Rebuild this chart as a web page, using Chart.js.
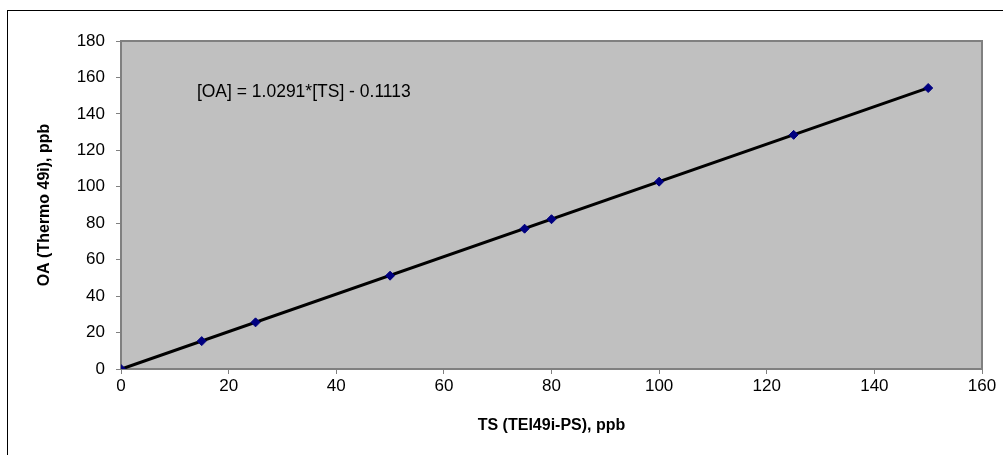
<!DOCTYPE html>
<html>
<head>
<meta charset="utf-8">
<script src="https://cdn.jsdelivr.net/npm/chart.js@4"></script>
<style>
  html, body { margin: 0; padding: 0; background: #fff; }
  #wrap { width: 1003px; height: 455px; position: relative; }
</style>
</head>
<body>
<div id="wrap"><canvas id="calChart"></canvas></div>
<script>
  const tsValues = [0, 15, 25, 50, 75, 80, 100, 125, 150];
  const oaValues = [0, 15.3, 25.6, 51.2, 77.0, 82.2, 102.8, 128.5, 154.2];
  // trendline end points
  const trendX = [0, 150];
  const trendY = [-0.11, 154.25];
  const xTicks = [0, 20, 40, 60, 80, 100, 120, 140, 160];
  const yTicks = [0, 20, 40, 60, 80, 100, 120, 140, 160, 180];
  const equationText = '[OA] = 1.0291*[TS] - 0.1113';

  const FONT = '"Liberation Sans", Arial, sans-serif';

  // gray plot area + outer frame + equation label
  const excelLook = {
    id: 'excelLook',
    beforeDraw(chart) {
      const { ctx, chartArea: a } = chart;
      ctx.save();
      ctx.strokeStyle = '#000';
      ctx.lineWidth = 1;
      ctx.strokeRect(7.5, 10.5, 1100, 600);
      ctx.fillStyle = '#c0c0c0';
      ctx.fillRect(a.left, a.top, a.right - a.left, a.bottom - a.top);
      ctx.strokeStyle = '#808080';
      ctx.lineWidth = 2;
      ctx.strokeRect(a.left, a.top, a.right - a.left, a.bottom - a.top);
      ctx.restore();
    },
    afterDatasetsDraw(chart) {
      const { ctx, scales } = chart;
      ctx.save();
      ctx.font = '17.5px ' + FONT;
      ctx.fillStyle = '#000';
      ctx.textBaseline = 'middle';
      ctx.fillText(equationText, scales.x.getPixelForValue(14.1), scales.y.getPixelForValue(152));
      ctx.restore();
    }
  };

  const ctx = document.getElementById('calChart').getContext('2d');
  new Chart(ctx, {
    type: 'scatter',
    data: {
      datasets: [{
        label: 'OA vs TS',
        data: tsValues.map((x, i) => ({ x: x, y: oaValues[i] })),
        pointStyle: 'rectRot',
        pointRadius: 4.5,
        backgroundColor: '#000080',
        borderColor: '#000080',
        borderWidth: 1,
        order: 1
      }, {
        type: 'line',
        label: 'Trend',
        data: trendX.map((x, i) => ({ x: x, y: trendY[i] })),
        borderColor: '#000',
        borderWidth: 3,
        pointRadius: 0,
        fill: false,
        order: 2
      }]
    },
    options: {
      responsive: true,
      maintainAspectRatio: false,
      animation: false,
      layout: { padding: { top: 41, right: 21, left: 0, bottom: 0 } },
      plugins: {
        legend: { display: false },
        tooltip: { enabled: false }
      },
      scales: {
        x: {
          type: 'linear',
          min: 0,
          max: 160,
          afterBuildTicks: (s) => { s.ticks = xTicks.map(v => ({ value: v })); },
          afterFit: (s) => { s.height = 86; },
          border: { display: true, color: '#808080', width: 1 },
          grid: { drawOnChartArea: false, drawTicks: true, tickLength: 5, color: '#808080' },
          ticks: { font: { family: FONT, size: 17 }, color: '#000', padding: 2, maxRotation: 0 },
          title: {
            display: true,
            text: 'TS (TEI49i-PS), ppb',
            font: { family: FONT, size: 16, weight: 'bold' },
            color: '#000',
            padding: { top: 0, bottom: 20 }
          }
        },
        y: {
          type: 'linear',
          min: 0,
          max: 180,
          afterBuildTicks: (s) => { s.ticks = yTicks.map(v => ({ value: v })); },
          afterFit: (s) => { s.width = 121; },
          border: { display: true, color: '#808080', width: 1 },
          grid: { drawOnChartArea: false, drawTicks: true, tickLength: 5, color: '#808080' },
          ticks: { font: { family: FONT, size: 17 }, color: '#000', padding: 11 },
          title: {
            display: true,
            text: 'OA (Thermo 49i), ppb',
            font: { family: FONT, size: 16, weight: 'bold' },
            color: '#000',
            padding: { top: 35, bottom: 0 }
          }
        }
      }
    },
    plugins: [excelLook]
  });
</script>
</body>
</html>
